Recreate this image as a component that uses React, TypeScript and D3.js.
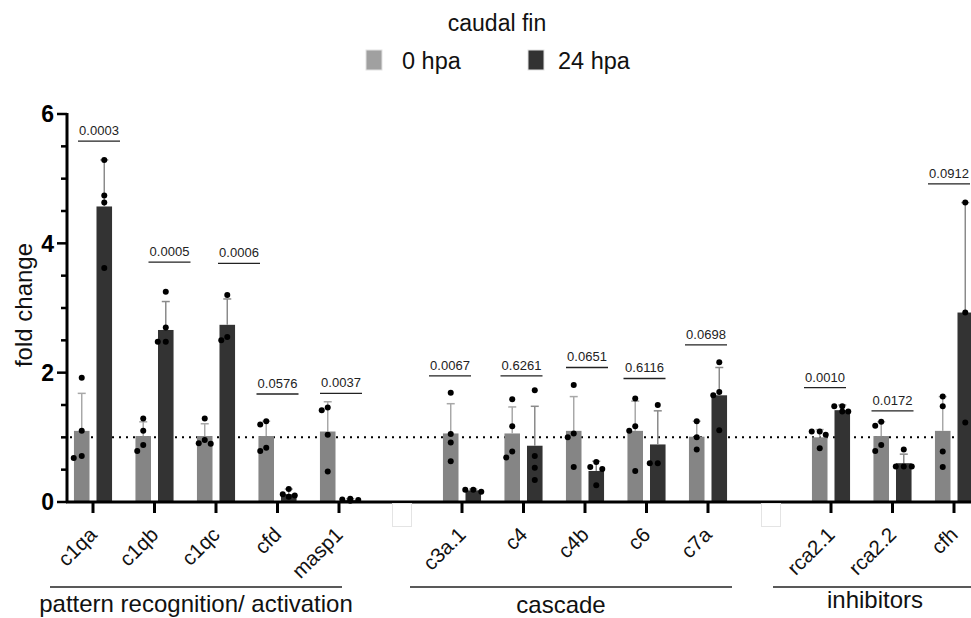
import React from "react";
import * as d3 from "d3";

// categories ("gap" entries are the empty slots between gene groups)
const categories = ["c1qa", "c1qb", "c1qc", "cfd", "masp1", "gap1", "c3a.1", "c4", "c4b", "c6", "c7a", "gap2", "rca2.1", "rca2.2", "cfh"];
const series = ["0 hpa", "24 hpa"];

const mean0 = [1.10, 1.02, 1.02, 1.02, 1.09, null, 1.06, 1.06, 1.10, 1.10, 1.01, null, 1.00, 1.02, 1.10];
const sd0 = [0.58, 0.22, 0.19, 0.23, 0.46, null, 0.46, 0.41, 0.53, 0.46, 0.24, null, 0.12, 0.22, 0.53];
const mean24 = [4.57, 2.66, 2.74, 0.12, 0.03, null, 0.18, 0.87, 0.48, 0.89, 1.65, null, 1.42, 0.60, 2.93];
const sd24 = [0.72, 0.44, 0.40, 0.08, 0.02, null, 0.02, 0.61, 0.15, 0.52, 0.43, null, 0.08, 0.14, 1.70];

const points0 = [
  [1.92, 1.10, 0.71, 0.68],
  [1.29, 1.10, 0.88, 0.79],
  [1.29, 0.96, 0.91, 0.90],
  [1.25, 1.20, 0.84, 0.79],
  [1.46, 1.42, 1.04, 0.47],
  [],
  [1.69, 1.05, 0.92, 0.63],
  [1.59, 1.17, 0.78, 0.69],
  [1.81, 1.06, 1.00, 0.54],
  [1.60, 1.17, 1.10, 0.48],
  [1.25, 1.00, 0.81],
  [],
  [1.09, 1.09, 1.04, 0.83],
  [1.24, 1.18, 0.88, 0.79],
  [1.63, 1.48, 0.78, 0.54],
];
const points24 = [
  [5.29, 4.74, 4.63, 3.62],
  [3.25, 2.70, 2.48, 2.48],
  [3.20, 2.55, 2.50],
  [0.20, 0.12, 0.10, 0.08],
  [0.05, 0.04, 0.03, 0.02],
  [],
  [0.19, 0.19, 0.16],
  [1.73, 0.71, 0.53, 0.34],
  [0.62, 0.54, 0.51, 0.26],
  [1.50, 0.60, 0.60],
  [2.16, 1.70, 1.65, 1.11],
  [],
  [1.48, 1.48, 1.40, 1.40],
  [0.81, 0.55, 0.55, 0.55],
  [4.63, 2.93, 1.23],
];

const pValues = ["0.0003", "0.0005", "0.0006", "0.0576", "0.0037", null, "0.0067", "0.6261", "0.0651", "0.6116", "0.0698", null, "0.0010", "0.0172", "0.0912"];
const pHeights = [5.58, 3.71, 3.69, 1.67, 1.68, null, 1.95, 1.95, 2.08, 1.91, 2.43, null, 1.77, 1.41, 4.92];

const groupLabels = ["pattern recognition/ activation", "cascade", "inhibitors"];

const yTicksMajor = [0, 2, 4, 6];

// layout
const W = 971, H = 618;
const pShift = [6, 15, 23, 0, 2, 0, -12, -2, 2, -2, -2, 0, -6, 0, -5];
const groupLine = [[50, 342], [410, 732], [773, 971]];
const groupTextX = [196, 561, 875];
const groupTextY = [612, 613, 608];
const colors = ["#858585", "#333333"];
const errColors = ["#a8a8a8", "#8a8a8a"];
const font = "Liberation Sans, Arial, sans-serif";

function spread(vals: number[], y: d3.ScaleLinear<number, number>) {
  const placed: { x: number; y: number }[] = [];
  const tries = [0, -6, 6, -3, 3, -8, 8];
  return vals.map((v) => {
    const py = y(v);
    let px = 0;
    for (const t of tries) {
      if (placed.every((p) => Math.hypot(p.x - t, p.y - py) >= 6.5)) { px = t; break; }
    }
    placed.push({ x: px, y: py });
    return { x: px, y: py };
  });
}

export default function App() {
  const x = d3.scaleBand<string>().domain(categories).range([62.25, 62.25 + 15 * 61.5]);
  const xs = d3.scaleBand<string>().domain(series).range([-19.05, 19.05]).paddingInner(0.31);
  const y = d3.scaleLinear().domain([0, 6]).range([502, 114]);
  const cx = (c: string) => (x(c) as number) + x.bandwidth() / 2;
  const bw = xs.bandwidth();
  const minor = d3.range(0, 6.01, 0.5);

  const means = [mean0, mean24];
  const sds = [sd0, sd24];
  const pts = [points0, points24];

  return (
    <svg width={W} height={H} style={{ position: "absolute", left: 0, top: 0, background: "#fff" }} fontFamily={font}>
      {/* legend */}
      <text x={497} y={31} textAnchor="middle" fontSize={23} fill="#111">caudal fin</text>
      <rect x={366} y={50} width={16} height={20} fill="#a0a0a0" stroke="#e2e2e2" strokeWidth={1} />
      <text x={402} y={69} fontSize={23.5} fill="#111">0 hpa</text>
      <rect x={528} y={50} width={16} height={20} fill="#333" stroke="#e2e2e2" strokeWidth={1} />
      <text x={558} y={69} fontSize={23.5} fill="#111">24 hpa</text>

      {/* y axis */}
      <line x1={67} x2={67} y1={y(6) - 1} y2={503} stroke="#000" strokeWidth={3} />
      {minor.map((t) => (
        <line key={t} x1={yTicksMajor.includes(t) ? 57 : 61} x2={67} y1={y(t)} y2={y(t)} stroke="#000" strokeWidth={2.5} />
      ))}
      {yTicksMajor.map((t) => (
        <text key={t} x={54} y={y(t)} dy="0.36em" textAnchor="end" fontSize={23} fontWeight="bold">{t}</text>
      ))}
      <text transform={`translate(32,305) rotate(-90)`} textAnchor="middle" fontSize={24} fill="#111">fold change</text>

      {/* reference line */}
      <line x1={70} x2={W} y1={y(1)} y2={y(1)} stroke="#000" strokeWidth={2} strokeDasharray="2,5" />

      {/* bars */}
      {categories.map((c, i) =>
        series.map((s, k) => {
          const m = means[k][i];
          if (m == null) return null;
          const bx = cx(c) + (xs(s) as number);
          const mid = bx + bw / 2;
          const top = y(m + (sds[k][i] as number));
          const dots = spread(pts[k][i], y);
          return (
            <g key={c + s}>
              <rect x={bx} y={y(m)} width={bw} height={y(0) - y(m)} fill={colors[k]} />
              <line x1={mid} x2={mid} y1={y(m)} y2={top} stroke={errColors[k]} strokeWidth={1.5} />
              <line x1={mid - 4} x2={mid + 4} y1={top} y2={top} stroke={errColors[k]} strokeWidth={1.5} />
              {dots.map((d, j) => (
                <circle key={j} cx={mid + d.x} cy={d.y} r={3} fill="#000" />
              ))}
            </g>
          );
        })
      )}

      {/* p-values */}
      {categories.map((c, i) => {
        const p = pValues[i];
        if (p == null) return null;
        const mx = cx(c) + pShift[i];
        const ly = y(pHeights[i] as number);
        return (
          <g key={"p" + c}>
            <line x1={mx - 21} x2={mx + 21} y1={ly} y2={ly} stroke="#222" strokeWidth={1.3} />
            <text x={mx} y={ly - 6} textAnchor="middle" fontSize={13} fill="#222">{p}</text>
          </g>
        );
      })}

      {/* x axis */}
      <line x1={66} x2={W} y1={502} y2={502} stroke="#000" strokeWidth={3} />
      {categories.map((c) => {
        const gap = c.startsWith("gap");
        const tx = cx(c);
        return (
          <g key={"t" + c}>
            {gap ? (
              <>
                <line x1={tx} x2={tx} y1={502} y2={506} stroke="#000" strokeWidth={1} />
                <rect x={tx - 8} y={503.5} width={19} height={23} fill="#fff" stroke="#e4e4e4" strokeWidth={1} />
              </>
            ) : (
              <>
                <line x1={tx} x2={tx} y1={502} y2={513} stroke="#000" strokeWidth={3} />
                <text transform={`translate(${tx + 5},${536}) rotate(-45)`} textAnchor="end" fontSize={20.5} fill="#111">{c}</text>
              </>
            )}
          </g>
        );
      })}

      {/* groups */}
      {groupLabels.map((g, i) => (
        <g key={g}>
          <line x1={groupLine[i][0]} x2={groupLine[i][1]} y1={587} y2={587} stroke="#222" strokeWidth={1.3} />
          <text x={groupTextX[i]} y={groupTextY[i]} textAnchor="middle" fontSize={24} fill="#111">{g}</text>
        </g>
      ))}
    </svg>
  );
}
